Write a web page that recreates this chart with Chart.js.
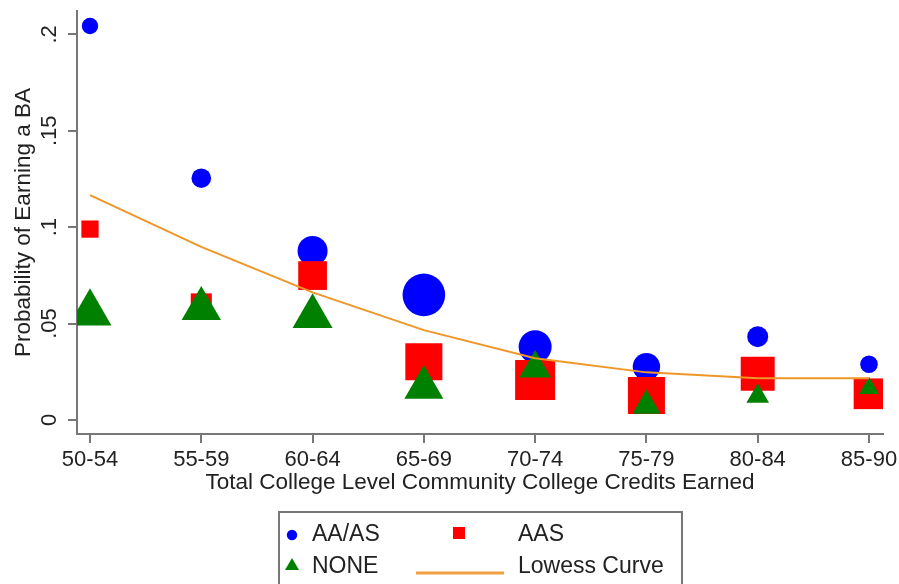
<!DOCTYPE html>
<html>
<head>
<meta charset="utf-8">
<script src="https://cdn.jsdelivr.net/npm/chart.js@4"></script>
<style>
  html, body { margin: 0; padding: 0; background: #fff; }
  #wrap { position: relative; width: 899px; height: 584px; overflow: hidden; font-family: "Liberation Sans", Arial, sans-serif; }
  #c { position: absolute; left: 0; top: 0; }
  #legend { position: absolute; left: 278px; top: 511px; width: 401px; height: 90px; border: 2px solid #777; box-sizing: content-box; }
  .lg { position: absolute; font-size: 23px; line-height: 23px; color: #222; white-space: nowrap; }
  .mk { position: absolute; }
</style>
</head>
<body>
<div id="wrap">
  <canvas id="c" width="899" height="584"></canvas>
  <div id="legend"></div>
</div>
<script>
// ---- data ----
const categories = ['50-54', '55-59', '60-64', '65-69', '70-74', '75-79', '80-84', '85-90'];
const aaValues     = [0.2043, 0.1254, 0.0877, 0.0649, 0.0380, 0.0276, 0.0432, 0.0289];
const aasValues    = [0.0990, 0.0602, 0.0749, 0.0302, 0.0207, 0.0127, 0.0240, 0.0136];
const noneValues   = [0.0555, 0.0577, 0.0537, 0.0168, 0.0268, 0.0075, 0.0123, 0.0165];
const lowessValues = [0.1166, 0.0898, 0.0662, 0.0466, 0.0320, 0.0247, 0.0216, 0.0216];
// marker weights (group sizes), shown as marker radius
const aaWeight   = [8.2, 9.8, 15, 21.3, 16.5, 13.7, 10.5, 8.8];
const aasWeight  = [12.2, 14.9, 20.3, 26.2, 28.3, 26.2, 24, 21.7];
const noneWeight = [24.8, 22.7, 23.1, 22.5, 18.3, 16.2, 13.1, 11.5];
const yTickValues = [0, 0.05, 0.1, 0.15, 0.2];
const yTickLabels = ['0', '.05', '.1', '.15', '.2'];
const seriesNames = ['AA/AS', 'AAS', 'NONE', 'Lowess Curve'];

const toPts = arr => arr.map((v, i) => ({ x: i + 1, y: v }));
const FONT = '"Liberation Sans", Arial, sans-serif';
const AXIS = '#777';
const TEXT = '#222';
const ORANGE = '#EE9628';

const chart = new Chart(document.getElementById('c'), {
  type: 'scatter',
  data: {
    datasets: [
      { label: seriesNames[0], data: toPts(aaValues), pointStyle: 'circle', pointRadius: aaWeight,
        backgroundColor: '#0000FF', borderWidth: 0, order: 4 },
      { label: seriesNames[1], data: toPts(aasValues), pointStyle: 'rect', pointRadius: aasWeight,
        backgroundColor: '#FF0000', borderWidth: 0, order: 3 },
      { label: seriesNames[2], data: toPts(noneValues), pointStyle: 'triangle', pointRadius: noneWeight,
        backgroundColor: '#008000', borderWidth: 0, order: 2 },
      { label: seriesNames[3], data: toPts(lowessValues), type: 'line', showLine: true, pointRadius: 0,
        borderColor: ORANGE, borderWidth: 2, fill: false, tension: 0, order: 1 }
    ]
  },
  options: {
    responsive: false,
    animation: false,
    events: [],
    layout: { autoPadding: false, padding: { top: 11, right: 16, bottom: 88, left: 0 } },
    plugins: { legend: { display: false }, tooltip: { enabled: false } },
    scales: {
      x: {
        type: 'linear',
        min: 0.8832, max: 8.1258,
        afterBuildTicks: s => { s.ticks = categories.map((c, i) => ({ value: i + 1 })); },
        afterFit: s => { s.height = 62; s.paddingLeft = 0; s.paddingRight = 0; },
        grid: { drawOnChartArea: false, drawTicks: true, tickLength: 9, color: AXIS, lineWidth: 2 },
        border: { color: AXIS, width: 2 },
        ticks: { autoSkip: false, maxRotation: 0, minRotation: 0, padding: 4, color: TEXT,
          font: { family: FONT, size: 22 },
          callback: (v, i) => categories[i] },
        title: { display: true, text: 'Total College Level Community College Credits Earned', color: TEXT,
          font: { family: FONT, size: 22.5 }, padding: { top: 0, bottom: 0 } }
      },
      y: {
        type: 'linear',
        min: -0.00726, max: 0.2121,
        afterBuildTicks: s => { s.ticks = yTickValues.map(v => ({ value: v })); },
        afterFit: s => { s.width = 77; s.paddingTop = 0; s.paddingBottom = 0; },
        grid: { drawOnChartArea: false, drawTicks: true, tickLength: 9, color: AXIS, lineWidth: 2 },
        border: { color: AXIS, width: 2 },
        ticks: { minRotation: 90, maxRotation: 90, crossAlign: 'center', padding: 3, color: TEXT,
          font: { family: FONT, size: 22 },
          callback: (v, i) => yTickLabels[i] },
        title: { display: true, text: 'Probability of Earning a BA', color: TEXT,
          font: { family: FONT, size: 22.5 }, padding: { top: 10, bottom: 0 } }
      }
    }
  }
});

// ---- legend (HTML, two columns) ----
const lg = document.getElementById('legend');
function addText(txt, x, y) {
  const s = document.createElement('span'); s.className = 'lg'; s.textContent = txt;
  s.style.left = (x - 280) + 'px'; s.style.top = (y - 513) + 'px'; lg.appendChild(s);
}
function addMark(html, x, y) {
  const d = document.createElement('div'); d.className = 'mk'; d.innerHTML = html;
  d.style.left = (x - 280) + 'px'; d.style.top = (y - 513) + 'px'; lg.appendChild(d);
}
addMark('<svg width="12" height="12"><circle cx="6" cy="6" r="5.2" fill="#0000FF"/></svg>', 286, 527);
addText(seriesNames[0], 312, 522);
addMark('<svg width="13" height="13"><rect x="0" y="0" width="12" height="12" fill="#FF0000"/></svg>', 453, 526);
addText(seriesNames[1], 518, 522);
addMark('<svg width="16" height="14"><polygon points="7,0 14,12 0,12" fill="#008000"/></svg>', 285, 558);
addText(seriesNames[2], 312, 554);
addMark('<svg width="90" height="6"><line x1="0" y1="3" x2="88" y2="3" stroke="#F0A040" stroke-width="3"/></svg>', 416, 562);
addText(seriesNames[3], 518, 554);
</script>
</body>
</html>
